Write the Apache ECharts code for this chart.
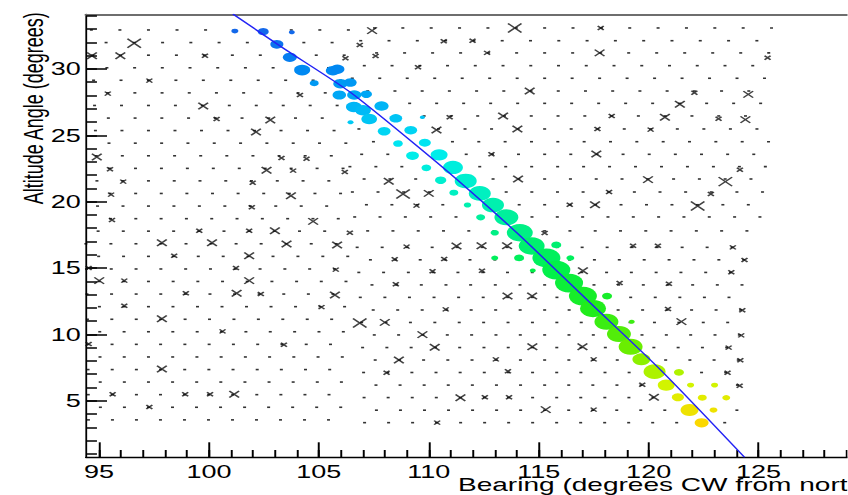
<!DOCTYPE html>
<html><head><meta charset="utf-8">
<script src="https://cdn.jsdelivr.net/npm/echarts@6/dist/echarts.min.js"></script>
<style>
html,body{margin:0;padding:0;background:#fff;overflow:hidden;width:848px;height:495px;}
#chart{width:565.333px;height:495px;transform:scaleX(1.5);transform-origin:0 0;}
</style></head><body><div id="chart"></div>
<script>
// ---------------- data ----------------
const xTitle = 'Bearing (degrees CW from north)';
const yTitle = 'Altitude Angle (degrees)';
const xTickLabels = [95, 100, 105, 110, 115, 120, 125];
const xMinorTicks = [95,96,97,98,99,100,101,102,103,104,105,106,107,108,109,110,111,112,113,114,115,116,117,118,119,120,121,122,123,124,125,126,127,128,129];
const yTickLabels = [5, 10, 15, 20, 25, 30];
const yMinorTicks = [1,2,3,4,5,6,7,8,9,10,11,12,13,14,15,16,17,18,19,20,21,22,23,24,25,26,27,28,29,30,31,32,33,34];
const xRange = [94.409, 129.045];
const yRange = [0.74, 34.12];

// pointing lattice: three patches (left, upper right, lower right)
const leftRowAlt = [32.94,31.99,31.04,30.09,29.15,28.20,27.25,26.30,25.36,24.41,23.46,22.51,21.57,20.62,19.67,18.72,17.78,16.83,15.88,14.93,13.99,13.04,12.09,11.14,10.20,9.25,8.30,7.35,6.41,5.46,4.51,3.56];
const leftRowStep = [1.299,1.285,1.272,1.260,1.248,1.237,1.226,1.216,1.206,1.197,1.188,1.180,1.172,1.165,1.158,1.151,1.145,1.139,1.133,1.128,1.123,1.119,1.115,1.111,1.108,1.104,1.102,1.099,1.097,1.095,1.093,1.092];
const upperRightRowAlt = [33.09,32.13,31.21,30.25,29.30,28.34,27.41,26.46,25.48,24.52,23.57,22.64,21.71,20.73,19.77,18.85,17.80];
const upperRightRowStep = [1.290,1.287,1.274,1.262,1.250,1.238,1.228,1.218,1.207,1.198,1.189,1.181,1.173,1.166,1.158,1.152,1.150];
const lowerRightRowAlt = [16.56,15.62,14.67,13.73,12.79,11.84,10.90,9.96,9.01,8.07,7.13,6.18,5.24,4.29,3.35];
const lowerRightRowStep = [1.137,1.132,1.127,1.122,1.118,1.114,1.110,1.107,1.104,1.101,1.098,1.096,1.095,1.093,1.092];
const patchCenterBearing = [97.25, 115.27, 115.27];
const patchMinBearing = [94.38, 106.4, 106.6];
const patchMaxBearing = [106.35, 125.6, 124.45];
const patchFirstRowOffset = [0, 0, 0.5];

// crossed pointings: [bearing, altitude, weight class 1..3]
const crossMarks = [
[96.60,31.94,3],[94.68,31.00,2],[95.97,31.00,2],[99.82,31.00,1],[97.29,29.12,1],[95.40,28.14,1],[99.74,27.21,2],[100.35,26.23,1],[102.79,26.16,2],[102.14,25.25,2],[94.90,23.37,2],[95.50,22.44,1],[102.62,22.37,2],[96.10,21.51,1],[101.99,21.43,1],[95.55,20.53,1],[101.95,19.58,1],[95.59,18.62,1],[99.56,17.81,1],[101.83,17.81,1],[103.00,17.81,2],
[107.42,32.89,2],[106.86,31.81,1],[110.68,32.09,1],[106.21,30.81,1],[107.58,30.98,1],[109.51,30.13,1],[104.14,28.04,1],[110.95,26.36,1],[110.35,25.40,2],[104.44,23.24,1],[103.30,23.29,1],[103.83,22.34,1],[106.18,22.24,1],[108.18,21.54,2],[103.73,20.45,2],[108.83,20.58,3],[110.00,20.63,2],[109.44,19.70,1],[104.74,18.52,2],[106.41,17.66,1],
[113.91,33.09,3],[117.82,33.09,1],[111.99,32.13,1],[112.65,31.21,1],[117.77,31.21,2],[114.59,28.34,2],[113.38,26.46,2],[118.32,26.46,1],[114.03,25.48,2],[117.67,25.48,1],[120.09,25.43,1],[112.85,23.57,1],[117.62,23.59,2],[114.06,21.71,2],[119.97,21.66,2],[118.20,20.73,1],[116.41,19.77,1],[117.56,19.77,2],[115.27,17.64,1],
[125.41,30.85,1],[122.08,28.21,1],[124.53,28.09,2],[121.42,27.34,2],[120.74,26.36,2],[123.18,26.25,1],[124.40,26.18,2],[124.15,22.41,1],[123.49,21.51,3],[122.83,20.58,1],[122.23,19.68,3],
[97.86,16.91,2],[100.14,16.91,2],[98.42,15.93,1],[101.83,15.93,2],[94.53,15.00,1],[101.23,15.00,1],[95.01,14.05,2],[96.15,14.05,1],[101.83,14.05,2],[98.95,13.10,1],[101.26,13.10,2],[102.36,13.04,1],[96.15,12.16,1],[97.86,11.18,2],[100.62,10.23,1],[94.53,9.28,1],[97.86,7.39,2],[95.62,5.49,1],[98.92,5.49,1],[100.05,5.49,1],[101.15,5.49,2],[97.29,4.53,1],
[103.53,16.81,2],[105.83,16.74,2],[108.99,16.61,1],[111.26,16.66,2],[108.45,15.66,1],[110.70,15.68,1],[105.77,14.88,1],[110.17,14.76,1],[108.50,13.78,1],[105.73,12.97,2],[105.12,12.06,1],[110.77,11.89,1],[106.86,10.86,3],[108.00,10.91,2],[109.71,9.98,2],[103.41,9.22,1],[110.27,9.03,2],[108.64,8.07,2],[108.08,7.11,1],[111.44,5.23,2],[110.38,3.35,1],
[112.40,16.68,2],[113.56,16.68,2],[119.29,16.68,1],[120.42,16.68,1],[112.42,14.80,1],[117.01,14.80,2],[118.68,13.87,1],[113.58,12.89,2],[114.70,12.89,2],[114.71,9.07,2],[116.99,9.07,2],[113.05,8.12,1],[117.50,8.12,1],[113.60,7.22,1],[119.71,6.21,1],[112.55,5.26,1],[113.65,5.26,1],[120.24,5.26,2],[115.32,4.33,2],[117.50,4.33,1],
[123.83,16.56,1],[124.36,15.61,1],[123.76,14.68,1],[120.92,13.82,1],[120.88,11.91,1],[124.26,11.82,1],[121.49,10.96,2],[124.21,9.93,1],[123.64,9.00,1],[124.17,8.05,1],[123.59,7.11,1],[124.14,6.13,1]
];

// detected hits: [bearing, altitude, weight]
const hitMarks = [
[101.18,32.86,4.7],[102.47,32.81,7.3],[103.77,32.77,4],[103.09,31.86,8.7],[103.68,30.88,9.3],[104.24,29.92,10.7],[104.79,28.93,6],
[105.64,29.87,9.5],[105.84,29.98,9.5],[105.98,28.89,9.5],[106.43,28.98,8.5],[105.93,28.04,9],[106.61,28.04,9.5],[107.16,28.10,7.5],
[106.59,27.14,10.5],[107.01,26.89,10.5],[107.85,27.21,9.5],[107.29,26.23,10.5],[106.44,25.98,4],[108.50,26.28,8.5],[109.71,26.36,3.5],
[107.97,25.31,8.5],[109.18,25.39,8.5],[108.60,24.38,6.5],[109.82,24.45,8],[109.26,23.47,8.5],[110.47,23.53,11.3],[109.89,22.55,6.5],
[111.10,22.58,13.3],[110.54,21.62,7.5],[111.68,21.56,14.7],[111.14,20.68,6],[112.32,20.62,14.7],[111.76,19.75,5],[112.92,19.75,14.7],
[112.36,18.82,6],[113.53,18.82,16],[113.00,17.66,5.5],[114.14,17.66,17.3],[114.68,16.66,17.3],[115.80,16.74,6.7],
[113.00,15.76,4.7],[114.11,15.76,6.7],[115.35,15.76,18.7],[116.44,15.76,5.3],[114.73,14.81,4],[115.80,14.85,18.7],[116.38,13.87,18.7],
[117.01,12.89,18.7],[118.11,12.89,6.7],[117.47,11.95,17.3],[118.08,10.95,16],[119.23,10.95,4],[118.65,10.03,16],[119.18,9.07,16],
[119.67,8.12,12],[120.27,7.19,14.7],[121.38,7.14,6.7],[120.80,6.18,11.3],[121.91,6.18,4.7],[123.00,6.18,4.7],[121.33,5.26,8],[122.44,5.23,6],
[123.53,5.23,5.3],[121.86,4.30,12],[122.95,4.30,5.3],[122.41,3.34,9.3]
];

// fitted track
const trackBearing = [101.09, 103.32, 106.41, 110.05, 111.86, 114.06, 117.32, 120.58, 124.36];
const trackAlt     = [34.14, 31.64, 28.27, 23.39, 20.83, 17.57, 12.41, 7.26, 0.74];

// ---------------- build ----------------
function buildPatch(alts, steps, p) {
  const pts = [];
  alts.forEach(function (alt, r) {
    const off = (r % 2 === 0) ? patchFirstRowOffset[p] : 0.5 - patchFirstRowOffset[p];
    for (let k = -30; k <= 30; k++) {
      const b = patchCenterBearing[p] + (k + off) * steps[r];
      if (b >= patchMinBearing[p] && b <= patchMaxBearing[p]) pts.push([b, alt]);
    }
  });
  return pts;
}
const latticeData = [].concat(
  buildPatch(leftRowAlt, leftRowStep, 0),
  buildPatch(upperRightRowAlt, upperRightRowStep, 1),
  buildPatch(lowerRightRowAlt, lowerRightRowStep, 2)
);
const trackData = trackBearing.map(function (b, i) { return [b, trackAlt[i]]; });

const FONT = '"Liberation Sans", Arial, Helvetica, sans-serif';
const crossSize = [4, 6.5, 9];

const chart = echarts.init(document.getElementById('chart'), null, {renderer: 'svg'});
const baseX = {type: 'value', min: xRange[0], max: xRange[1], splitLine: {show: false}};
const baseY = {type: 'value', min: yRange[0], max: yRange[1], splitLine: {show: false}};
chart.setOption({
  animation: false,
  backgroundColor: '#ffffff',
  grid: {left: 57.333, top: 14.3, right: 0, height: 443, containLabel: false, outerBoundsMode: 'none'},
  xAxis: [
    Object.assign({}, baseX, {
      position: 'bottom',
      axisLine: {show: true, onZero: false, lineStyle: {color: '#000', width: 1.4}},
      axisTick: {show: true, inside: true, length: 15, customValues: xTickLabels, lineStyle: {color: '#000', width: 1.3}},
      axisLabel: {show: true, customValues: xTickLabels, margin: 5, fontSize: 18, fontFamily: FONT, color: '#000'}
    }),
    Object.assign({}, baseX, {
      position: 'bottom',
      axisLine: {show: false, onZero: false},
      axisTick: {show: true, inside: true, length: 7.3, customValues: xMinorTicks, lineStyle: {color: '#000', width: 1.3}},
      axisLabel: {show: false}
    }),
    Object.assign({}, baseX, {
      position: 'top',
      axisLine: {show: true, onZero: false, lineStyle: {color: '#6e6e6e', width: 2}},
      axisTick: {show: false},
      axisLabel: {show: false}
    })
  ],
  yAxis: [
    Object.assign({}, baseY, {
      position: 'left',
      axisLine: {show: true, onZero: false, lineStyle: {color: '#000', width: 1.2}},
      axisTick: {show: true, inside: true, length: 14, customValues: yTickLabels, lineStyle: {color: '#000', width: 1.5}},
      axisLabel: {show: true, customValues: yTickLabels, margin: 3.5, fontSize: 18, fontFamily: FONT, color: '#000'}
    }),
    Object.assign({}, baseY, {
      position: 'left',
      axisLine: {show: false, onZero: false},
      axisTick: {show: true, inside: true, length: 7.3, customValues: yMinorTicks, lineStyle: {color: '#000', width: 1.5}},
      axisLabel: {show: false}
    })
  ],
  visualMap: {
    type: 'continuous', show: false, dimension: 1, seriesIndex: 2, min: 3, max: 33,
    inRange: {color: ['#FFD400', '#D8F400', '#6CEE00', '#20EC1C', '#00F04C', '#00F08C', '#00F0C8', '#00ECF0', '#00B8F6', '#0088F2', '#1466EA']}
  },
  series: [
    {type: 'scatter', name: 'lattice', data: latticeData, symbol: 'rect', symbolSize: [2, 1.6],
     itemStyle: {color: '#000'}, silent: true, z: 1},
    {type: 'scatter', name: 'crossed', data: crossMarks, symbol: 'path://M0,0L10,10M10,0L0,10',
     symbolSize: function (v) { return crossSize[v[2] - 1]; },
     itemStyle: {color: 'none', borderColor: '#111', borderWidth: 1.25}, silent: true, z: 2},
    {type: 'scatter', name: 'hits', data: hitMarks, symbol: 'circle',
     symbolSize: function (v) { return v[2]; }, itemStyle: {opacity: 1}, silent: true, z: 3},
    {type: 'line', name: 'track', data: trackData, showSymbol: false, smooth: 0.25,
     lineStyle: {color: '#2323f5', width: 1.2}, silent: true, z: 4}
  ],
  graphic: [
    {type: 'text', x: 22.2, y: 108.2, rotation: Math.PI / 2,
     style: {text: yTitle, fontSize: 18, fontFamily: FONT, fill: '#000', align: 'center', verticalAlign: 'middle'}},
    {type: 'text', x: 305.3, y: 484,
     style: {text: xTitle, fontSize: 18.7, fontFamily: FONT, fill: '#000', align: 'left', verticalAlign: 'middle'}}
  ]
});
</script></body></html>
